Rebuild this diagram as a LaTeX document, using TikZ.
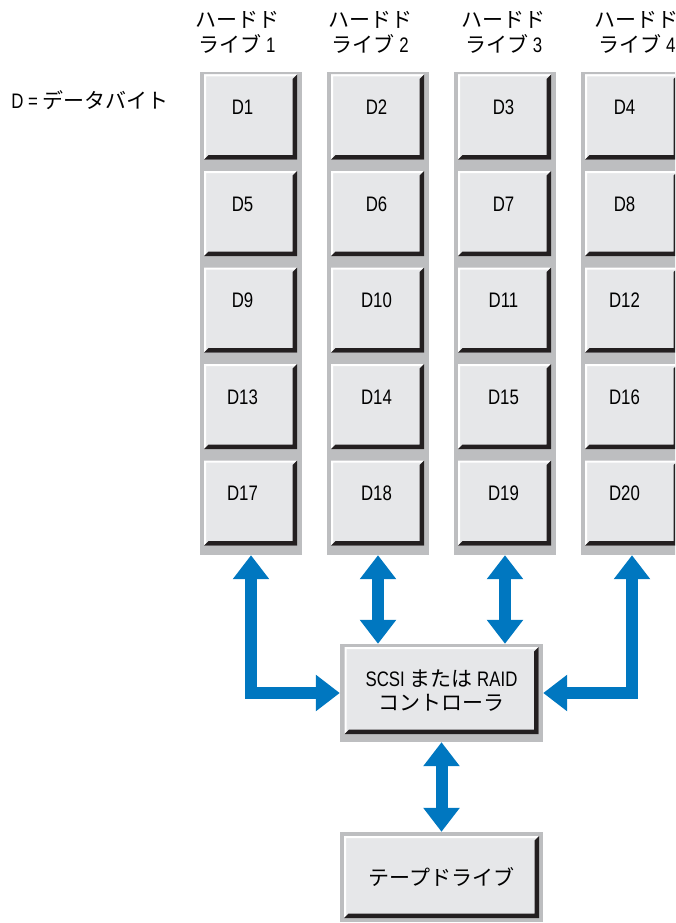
\documentclass[tikz,border=0pt]{standalone}
\usepackage{fontspec}
\setmainfont{Noto Sans CJK JP}
\newfontfamily\latinfont[FakeStretch=0.8]{Liberation Sans}
\usetikzlibrary{arrows.meta, positioning, calc}

\definecolor{bayGray}{HTML}{BDBEC0}
\definecolor{keyFace}{HTML}{E6E7E9}
\definecolor{keyShade}{HTML}{231F20}
\definecolor{linkBlue}{HTML}{0077C0}

\begin{document}
\begin{tikzpicture}[
    x=1pt, y=-1pt,
    bay/.style={fill=bayGray, inner sep=0pt},
    keyface/.style={fill=keyFace, inner sep=0pt, align=center,
        font=\fontsize{21}{24}\selectfont,
        path picture={
            \fill[white] (path picture bounding box.north west) -- (path picture bounding box.north east)
                -- ($(path picture bounding box.north east)+(-2pt,-2pt)$) -- ($(path picture bounding box.north west)+(2pt,-2pt)$)
                -- ($(path picture bounding box.south west)+(2pt,2pt)$) -- (path picture bounding box.south west) -- cycle;
            \fill[keyShade] (path picture bounding box.north east) -- (path picture bounding box.south east)
                -- (path picture bounding box.south west) -- ($(path picture bounding box.south west)+(4.5pt,4.5pt)$)
                -- ($(path picture bounding box.south east)+(-4.5pt,4.5pt)$) -- ($(path picture bounding box.north east)+(-4.5pt,-4.5pt)$) -- cycle;
        }},
    keycap/.style={keyface, minimum width=93pt, minimum height=85pt},
    datalabel/.style={font=\latinfont\fontsize{21}{25}\selectfont, inner sep=0pt},
    header/.style={align=center, inner sep=0pt, font=\fontsize{21}{25}\selectfont},
    link/.style={draw=linkBlue, line width=12pt, line join=miter,
        {Triangle[width=35pt, length=24pt]}-{Triangle[width=35pt, length=24pt]}}
]
    \useasboundingbox (0,0) rectangle (675,923);
    \clip (0,0) rectangle (675,923);

    % Drives and data bytes
    \foreach \c/\dx in {1/-8, 2/-1, 3/-1, 4/-7} {
        \node[bay, minimum width=102pt, minimum height=483pt] (bay\c) at ({251+127*(\c-1)}, 313.5) {};
        \node[header] (head\c) at ({237+133.3*(\c-1)}, 32) {ハードド\\ライブ {\latinfont\c}};
        \foreach \r in {1,...,5} {
            \pgfmathtruncatemacro{\n}{4*(\r-1)+\c}
            \node[keycap] (d\n) at ({250.5+127*(\c-1)}, {117+96.5*(\r-1)}) {};
            \node[datalabel] (t\n) at ($(d\n.center)+(\dx pt,9.5pt)$) {D\n};
        }
    }

    \node[header] (legend) at (90,100) {{\latinfont D =} データバイト};

    % Controller and tape drive
    \node[bay, minimum width=203pt, minimum height=98pt] (ctrl) at (441.5,693) {};
    \node[keyface, minimum width=194pt, minimum height=87pt] (ctrlkey) at (441.5,690.5)
        {{\latinfont SCSI} または {\latinfont RAID}\\コントローラ};
    \node[bay, minimum width=203pt, minimum height=90pt] (tape) at (441.5,877) {};
    \node[keyface, minimum width=195pt, minimum height=82pt] (tapekey) at (441.5,877) {テープドライブ};

    % Links
    \draw[link] (bay1.south) |- (ctrl.west);
    \draw[link] (bay2.south) -- (bay2.south |- ctrl.north);
    \draw[link] (bay3.south) -- (bay3.south |- ctrl.north);
    \draw[link] (bay4.south) |- (ctrl.east);
    \draw[link] (ctrl.south) -- (tape.north);
\end{tikzpicture}
\end{document}
